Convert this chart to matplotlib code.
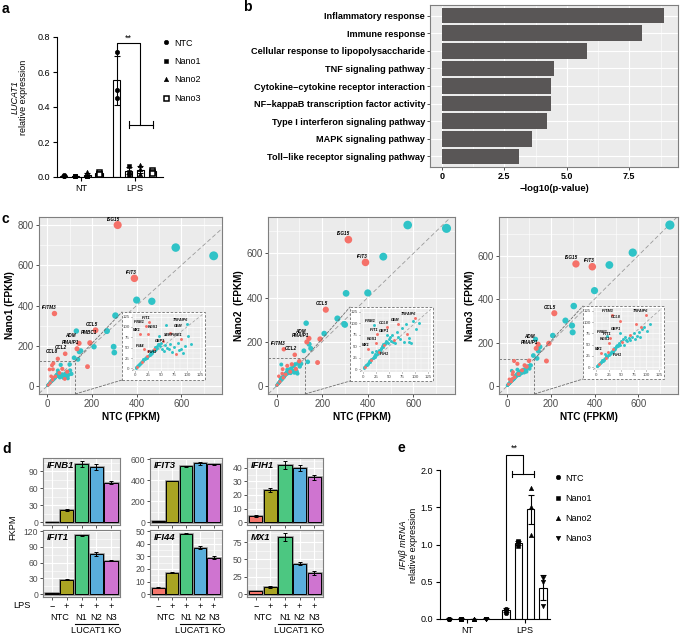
import matplotlib.pyplot as plt
import matplotlib.transforms as mtransforms
import numpy as np
from matplotlib.patches import ConnectionPatch, Rectangle

plt.rcParams["font.family"] = ["Liberation Sans", "DejaVu Sans"]
plt.rcParams["font.size"] = 6.5
plt.rcParams["axes.linewidth"] = 0.8

W, H = 682, 635
fig = plt.figure(figsize=(W / 100, H / 100), dpi=100)


def box(l, t, r, b):
    # pixel box (left, top, right, bottom) -> figure fraction rect
    return [l / W, 1 - b / H, (r - l) / W, (b - t) / H]


def fpx(x, y):
    return (x / W, 1 - y / H)


GG_BG = "#EBEBEB"
GREY30 = "#4D4D4D"

# ---------------------------------------------------------------------------
# data
# ---------------------------------------------------------------------------

# a: LUCAT1 qPCR
SERIES = ["NTC", "Nano1", "Nano2", "Nano3"]
GROUPS = ["NT", "LPS"]
A_MEAN_NT = [0.008, 0.006, 0.014, 0.022]
A_ERR_NT = [0.003, 0.002, 0.010, 0.008]
A_PTS_NT = [[0.012, 0.006, 0.007], [0.007, 0.005, 0.006], [0.030, 0.008, 0.005], [0.030, 0.020, 0.016]]
A_MEAN_LPS = [0.552, 0.035, 0.042, 0.032]
A_ERR_LPS = [0.140, 0.020, 0.020, 0.008]
A_PTS_LPS = [[0.715, 0.500, 0.449], [0.065, 0.030, 0.012], [0.068, 0.045, 0.015], [0.040, 0.030, 0.025]]

# b: enrichment
B_TERMS = [
    "Inflammatory response",
    "Immune response",
    "Cellular response to lipopolysaccharide",
    "TNF signaling pathway",
    "Cytokine\u2212cytokine receptor interaction",
    "NF\u2212kappaB transcription factor activity",
    "Type I interferon signaling pathway",
    "MAPK signaling pathway",
    "Toll\u2212like receptor signaling pathway",
]
B_LOGP = [8.9, 8.0, 5.82, 4.5, 4.37, 4.35, 4.2, 3.6, 3.08]

# c: FPKM scatter, named / outlying genes
C_GENES = ["ISG15", "IFIT3", "", "", "", "", "", "CCL5", "", "", "ADM", "PMAIP1",
           "", "", "", "PMBC1", "", "IFITM3", "CCL2", "CCL8", "", "", "", "",
           "IFNB1", "IFIT1", "MX1", "IFIH1", "IFI44", "RGS1", "GEM", "GBP1",
           "TNFAIP6", "SERPINE1"]
C_NTC = [315, 390, 575, 745, 400, 468, 305, 216, 267, 130, 142, 133,
         209, 297, 300, 191, 180, 32, 80, 47, 143, 137, 120, 150,
         21, 27, 10, 24, 17, 25, 67, 47, 100, 89]
C_NANO1 = [800, 535, 688, 647, 427, 421, 350, 277, 273, 273, 212, 185,
           195, 195, 166, 214, 96, 360, 160, 135, 170, 132, 140, 175,
           103, 112, 82, 42, 48, 83, 85, 77, 107, 71]
C_NANO2 = [662, 559, 728, 713, 421, 585, 419, 345, 305, 284, 215, 199,
           237, 280, 277, 212, 106, 166, 141, 91, 189, 109, 159, 170,
           97, 76, 44, 40, 37, 56, 98, 74, 112, 60]
C_NANO3 = [562, 549, 614, 741, 439, 557, 368, 335, 301, 215, 192, 173,
           232, 278, 247, 196, 115, 115, 95, 102, 161, 127, 140, 180,
           70, 64, 31, 33, 29, 53, 60, 75, 116, 89]
C_UP1 = "rrcccccrccrrcccrrrrrccccrrrrrrrccr"
C_UP2 = "rrcccccrccrrcccrrrrrcccccrrccrrcrc"
C_UP3 = "rrcccccrccrrcccrrrrrcccccrrrcrccrr"

# c: bulk of low-expressed genes (inset region)
CL_NTC = [1, 2, 3, 4, 5, 6, 7, 8, 9, 10, 11, 12, 13, 14, 15, 16, 18, 19, 20, 22,
          23, 25, 26, 28, 29, 30, 31, 33, 34, 35, 36, 38, 39, 40, 42, 43, 45, 46,
          48, 50, 52, 54, 56, 58, 60, 62, 65, 68, 72, 75, 78, 82, 85, 88, 92, 96,
          102, 108]
CL_NANO1 = [2, 3, 5, 4, 7, 9, 8, 11, 10, 14, 13, 16, 15, 19, 18, 22, 24, 23, 27, 26,
            30, 29, 33, 32, 36, 35, 40, 38, 44, 41, 47, 45, 52, 48, 55, 50, 58, 60,
            54, 62, 48, 65, 42, 56, 105, 50, 46, 58, 40, 52, 35, 62, 45, 48, 38, 55,
            77, 60]
CL_NANO2 = [2, 4, 4, 6, 8, 8, 10, 12, 11, 14, 15, 17, 16, 20, 19, 23, 25, 24, 28, 27,
            32, 30, 34, 35, 38, 37, 42, 40, 46, 44, 50, 48, 55, 52, 58, 54, 62, 60,
            57, 66, 70, 62, 75, 60, 64, 58, 80, 70, 66, 90, 60, 98, 77, 67, 56, 104,
            88, 100]
CL_NANO3 = [2, 3, 4, 5, 7, 8, 9, 10, 11, 12, 13, 15, 14, 17, 16, 19, 21, 20, 24, 23,
            27, 26, 29, 30, 33, 31, 36, 34, 40, 37, 43, 41, 47, 44, 50, 46, 54, 52,
            49, 58, 55, 62, 50, 66, 60, 57, 65, 72, 68, 75, 62, 70, 78, 66, 85, 90,
            80, 95]
CL_RED1 = [3, 12, 20, 30, 41, 50]
CL_RED2 = [2, 14, 25, 33, 44, 52]
CL_RED3 = [5, 17, 28, 40, 47]

C_NAMES = ["Nano1 (FPKM)", "Nano2  (FPKM)", "Nano3  (FPKM)"]
MAIN_LAB = [["ISG15", "IFIT3", "IFITM3", "CCL5", "ADM", "PMBC1", "PMAIP1", "CCL2", "CCL8"],
            ["ISG15", "IFIT3", "CCL5", "ADM", "PMAIP1", "IFITM3", "CCL2"],
            ["ISG15", "IFIT3", "CCL5", "ADM", "PMAIP1"]]
INSET_LAB = [["IFIT1", "IFNB1", "MX1", "RGS1", "GBP1", "GEM", "TNFAIP6", "SERPINE1", "IFI44", "IFIH1"],
             ["IFNB1", "CCL8", "GEM", "TNFAIP6", "IFIT1", "RGS1", "GBP1", "MX1", "IFIH1"],
             ["IFITM3", "TNFAIP6", "CCL8", "IFNB1", "IFIT1", "GBP1", "RGS1", "MX1", "IFIH1"]]
# label nudges (points) where labels would collide
MAIN_NUDGE = {"ADM": (-4, 1), "PMBC1": (4, 3), "CCL8": (-1, 1)}
INSET_NUDGE = [{"IFNB1": (-2, 0), "MX1": (-1, 0), "RGS1": (6, 2), "IFI44": (-1, -1),
                "IFIH1": (6, -4), "GBP1": (3, -6), "GEM": (8, 2)},
               {"IFIH1": (9, -5)},
               {"IFIH1": (9, -5)}]

# d: FPKM of interferon genes
D_GENES = ["IFNB1", "IFIT3", "IFIH1", "IFIT1", "IFI44", "MX1"]
D_MEAN = [[0.5, 21.5, 103, 97, 70], [10, 390, 535, 560, 550], [4.5, 24, 42, 40, 33],
          [2, 27, 112, 76, 64], [5, 17, 48, 37, 29], [4.5, 10, 82, 44, 31]]
D_ERR = [[0.2, 1, 5, 5, 3], [2, 2, 5, 12, 6], [0.5, 1.5, 3, 2, 2],
         [0.5, 1, 1.5, 3.5, 1.5], [0.4, 0.6, 0.3, 1.5, 1], [0.3, 1, 6, 2, 3]]
D_TICKS = [[0, 30, 60, 90], [0, 200, 400, 600], [0, 10, 20, 30, 40],
           [0, 30, 60, 90, 120], [0, 10, 20, 30, 40, 50], [0, 25, 50, 75]]
D_LPS = ["\u2212", "+", "+", "+", "+"]
D_KO = ["N1", "N2", "N3"]

# e: IFNb qPCR
E_MEAN_NT = [0.005, 0.005, 0.003, 0.005]
E_ERR_NT = [0.002, 0.002, 0.001, 0.002]
E_PTS_NT = [[0.005, 0.004, 0.006], [0.005, 0.004, 0.006], [0.003, 0.002, 0.004], [0.005, 0.004, 0.006]]
E_MEAN_LPS = [0.12, 1.02, 1.47, 0.42]
E_ERR_LPS = [0.03, 0.03, 0.19, 0.17]
E_PTS_LPS = [[0.13, 0.12, 0.08], [1.05, 1.04, 0.98], [1.76, 1.50, 1.13], [0.55, 0.50, 0.18]]

RED = "#F57169"
CYAN = "#2FC3C7"
D_COLORS = ["#F4766C", "#A9A423", "#4CC781", "#5AAEDC", "#CF74D0"]


# ---------------------------------------------------------------------------
# helpers
# ---------------------------------------------------------------------------

def prism_panel(ax, means, errs, pts, markers, hollow, gap):
    handles = []
    for gi in range(2):
        xs = np.arange(4) + gi * gap
        ax.bar(xs, means[gi], width=0.6, facecolor="white", edgecolor="black",
               linewidth=0.8, zorder=2)
        ax.errorbar(xs, means[gi], yerr=errs[gi], fmt="none", ecolor="black",
                    elinewidth=0.8, capsize=2.2, capthick=0.8, zorder=3)
        for si in range(4):
            (h,) = ax.plot([xs[si]] * len(pts[gi][si]), pts[gi][si], linestyle="none",
                           marker=markers[si], ms=3.2 if not hollow[si] else 3.6,
                           mfc="white" if hollow[si] else "black", mec="black",
                           mew=1.1 if hollow[si] else 0.4, zorder=4, clip_on=False,
                           label=SERIES[si])
            if gi == 0:
                handles.append(h)
    ax.set_xticks([1.5, 1.5 + gap])
    ax.set_xticklabels(GROUPS)
    for s in ["top", "right"]:
        ax.spines[s].set_visible(False)
    ax.tick_params(length=3, width=0.8, pad=2)
    return handles


def gg_axes(ax):
    ax.set_facecolor(GG_BG)
    ax.set_axisbelow(True)
    ax.grid(True, which="major", color="white", linewidth=0.8)
    ax.grid(True, which="minor", color="white", linewidth=0.4)
    ax.tick_params(which="major", length=2, width=0.6, color="#333333",
                   labelcolor=GREY30, pad=1.5)
    ax.tick_params(which="minor", length=0)
    for s in ax.spines.values():
        s.set_color("#7F7F7F")
        s.set_linewidth(0.8)


# ---------------------------------------------------------------------------
# a
# ---------------------------------------------------------------------------

ax = fig.add_axes(box(57, 37, 163, 177))
hs = prism_panel(ax, [A_MEAN_NT, A_MEAN_LPS], [A_ERR_NT, A_ERR_LPS], [A_PTS_NT, A_PTS_LPS],
                 ["o", "s", "^", "s"], [False, False, False, True], 4.5)
ax.set_xlim(-0.55, 8.4)
ax.set_ylim(0, 0.8)
ax.set_yticks([0, 0.2, 0.4, 0.6, 0.8])
ax.set_yticklabels(["0.0", "0.2", "0.4", "0.6", "0.8"])
ax.plot([4.5, 4.5, 6.5, 6.5], [0.70, 0.765, 0.765, 0.30], color="black", lw=0.8, clip_on=False)
ax.plot([5.5, 7.55], [0.30, 0.30], color="black", lw=0.8)
ax.plot([5.5, 5.5], [0.28, 0.32], color="black", lw=0.8)
ax.plot([7.55, 7.55], [0.28, 0.32], color="black", lw=0.8)
ax.text(5.5, 0.77, "**", ha="center", va="bottom", fontsize=6.5)
fig.legend(handles=hs, loc="upper left", bbox_to_anchor=fpx(158, 34), frameon=False,
           handlelength=0.8, handletextpad=0.5, labelspacing=1.05, borderpad=0,
           fontsize=6.5)
fig.text(15 / W, 1 - 97 / H, "LUCAT1", rotation=90, style="italic", ha="center", va="center")
fig.text(24 / W, 1 - 97 / H, "relative expression", rotation=90, ha="center", va="center")

# ---------------------------------------------------------------------------
# b
# ---------------------------------------------------------------------------

ax = fig.add_axes(box(430, 5, 678, 167))
gg_axes(ax)
ax.barh(range(len(B_TERMS)), B_LOGP, height=0.88, color="#595656", zorder=2)
ax.set_ylim(len(B_TERMS) - 0.4, -0.6)
ax.set_xlim(-0.47, 9.45)
ax.set_yticks(range(len(B_TERMS)))
ax.set_yticklabels(B_TERMS, fontweight="bold", color="black", fontsize=6.6)
ax.set_xticks([0, 2.5, 5.0, 7.5])
ax.set_xticklabels(["0", "2.5", "5.0", "7.5"], fontweight="bold", color="black")
ax.set_xticks([1.25, 3.75, 6.25, 8.75], minor=True)
ax.set_xlabel("\u2212log10(p-value)", fontweight="bold", fontsize=6.8, labelpad=2)
ax.tick_params(axis="both", labelcolor="black")

# ---------------------------------------------------------------------------
# c
# ---------------------------------------------------------------------------

C_AX = [(39, 217, 222, 394), (268, 217, 455, 394), (499, 217, 678, 394)]
INSET_PX = [(122, 312, 205, 380), (350, 307, 433, 381), (583, 306, 664, 379)]
NANOS = [C_NANO1, C_NANO2, C_NANO3]
CL_NANOS = [CL_NANO1, CL_NANO2, CL_NANO3]
UPS = [C_UP1, C_UP2, C_UP3]
CL_REDS = [CL_RED1, CL_RED2, CL_RED3]
DASH = (0, (3, 2))

for k in range(3):
    xv = np.array(C_NTC + CL_NTC, dtype=float)
    yv = np.array(NANOS[k] + CL_NANOS[k], dtype=float)
    red = np.array([c == "r" for c in UPS[k]] +
                   [i in CL_REDS[k] for i in range(len(CL_NTC))])

    l, t, r, b = C_AX[k]
    ax = fig.add_axes(box(l, t, r, b))
    gg_axes(ax)
    xmax, ymax = xv.max(), yv.max()
    xlo, xhi = -0.05 * xmax, 1.05 * xmax
    ylo, yhi = -0.05 * ymax, 1.05 * ymax
    ax.set_xlim(xlo, xhi)
    ax.set_ylim(ylo, yhi)
    ax.set_xticks([0, 200, 400, 600])
    ax.set_xticks([100, 300, 500, 700], minor=True)
    yt = [0, 200, 400, 600, 800] if ymax > 780 else [0, 200, 400, 600]
    ax.set_yticks(yt)
    ax.set_yticks([v + 100 for v in yt if v + 100 < yhi], minor=True)
    ax.tick_params(labelsize=7)
    ax.set_xlabel("NTC (FPKM)", fontweight="bold", fontsize=7.2, labelpad=2)
    ax.set_ylabel(C_NAMES[k], fontweight="bold", fontsize=7.2, labelpad=2)

    ax.axline((0, 0), slope=1, color="#9A9A9A", lw=0.6, ls=(0, (5, 3)), zorder=1)
    size = 5 + 0.052 * (xv + yv) / 2
    ax.scatter(xv[~red], yv[~red], s=size[~red], color=CYAN, lw=0, zorder=3)
    ax.scatter(xv[red], yv[red], s=size[red], color=RED, lw=0, zorder=3)
    for name in MAIN_LAB[k]:
        i = C_GENES.index(name)
        dx, dy = MAIN_NUDGE.get(name, (0, 0))
        ax.annotate(name, (C_NTC[i], NANOS[k][i]), xytext=(1.5 + dx, 2.5 + dy),
                    textcoords="offset points", ha="right", va="bottom",
                    fontsize=3.3, fontweight="bold", style="italic", zorder=5)

    # zoom rectangle and connectors
    ax.plot([125, 125], [ylo, 125], color="#6E6E6E", lw=0.6, ls=DASH, zorder=2)
    ax.plot([xlo, 125], [125, 125], color="#6E6E6E", lw=0.6, ls=DASH, zorder=2)
    il, it, ir, ib = INSET_PX[k]
    for ya, yb in [(125, it), (ylo, ib)]:
        con = ConnectionPatch(xyA=(125, ya), coordsA=ax.transData, xyB=fpx(il, yb),
                              coordsB=fig.transFigure, color="#6E6E6E", lw=0.6,
                              ls=DASH, zorder=3)
        fig.add_artist(con)
    frame = Rectangle(fpx(il, ib), (ir - il) / W, (ib - it) / H, transform=fig.transFigure,
                      facecolor="white", edgecolor="#6E6E6E", lw=0.6, ls=DASH, zorder=3)
    fig.add_artist(frame)

    ins = fig.add_axes(box(il + 10, it + 2, ir - 2, ib - 9))
    ins.set_zorder(4)
    ins.set_facecolor(GG_BG)
    ins.set_axisbelow(True)
    ins.grid(True, which="major", color="white", lw=0.5)
    ins.grid(True, which="minor", color="white", lw=0.25)
    for s in ins.spines.values():
        s.set_visible(False)
    ins.set_xlim(-6.25, 131.25)
    ins.set_ylim(-6.25, 131.25)
    ticks = [0, 25, 50, 75, 100, 125]
    ins.set_xticks(ticks)
    ins.set_yticks(ticks)
    ins.set_xticks([12.5, 37.5, 62.5, 87.5, 112.5], minor=True)
    ins.set_yticks([12.5, 37.5, 62.5, 87.5, 112.5], minor=True)
    ins.tick_params(which="major", labelsize=3.2, length=1, width=0.4, pad=0.8,
                    labelcolor=GREY30, color="#333333")
    ins.tick_params(which="minor", length=0)
    ins.axline((0, 0), slope=1, color="#9A9A9A", lw=0.5, ls=(0, (4, 3)), zorder=1)
    ins.scatter(xv[~red], yv[~red], s=4.5, color=CYAN, lw=0, zorder=3)
    ins.scatter(xv[red], yv[red], s=4.5, color=RED, lw=0, zorder=3)
    for name in INSET_LAB[k]:
        i = C_GENES.index(name)
        dx, dy = INSET_NUDGE[k].get(name, (0, 0))
        ins.annotate(name, (C_NTC[i], NANOS[k][i]), xytext=(1 + dx, 1.5 + dy),
                     textcoords="offset points", ha="right", va="bottom",
                     fontsize=2.7, fontweight="bold", style="italic", zorder=5)

# ---------------------------------------------------------------------------
# d
# ---------------------------------------------------------------------------

D_POS = [(43, 458, 120, 525), (150, 458, 222, 525), (247, 458, 323, 525),
         (43, 530, 120, 597), (150, 530, 222, 597), (247, 530, 323, 597)]
xs = np.arange(5)
for k, gene in enumerate(D_GENES):
    ax = fig.add_axes(box(*D_POS[k]))
    gg_axes(ax)
    m = np.array(D_MEAN[k])
    e = np.array(D_ERR[k])
    ax.bar(xs, m, width=0.9, color=D_COLORS, edgecolor="#858585", linewidth=1.8, zorder=2)
    ax.bar(xs, m, width=0.9, color=D_COLORS, edgecolor="black", linewidth=0.7, zorder=2)
    ax.errorbar(xs, m, yerr=e, fmt="none", ecolor="black", elinewidth=0.7,
                capsize=1.6, capthick=0.7, zorder=3)
    top = max((m + e).max() * 1.05, D_TICKS[k][-1] * 1.02)
    ax.set_ylim(-0.045 * top, top)
    ax.set_xlim(-0.6, 4.6)
    ax.set_yticks(D_TICKS[k])
    ax.set_xticks(xs)
    ax.set_xticklabels([])
    ax.grid(True, axis="x", which="major", color="white", lw=0.8)
    ax.set_yticks([v + (D_TICKS[k][1] / 2) for v in D_TICKS[k]
                   if v + D_TICKS[k][1] / 2 < top], minor=True)
    ax.tick_params(labelsize=6.2)
    ax.text(0.05, 0.95, gene, transform=ax.transAxes, ha="left", va="top",
            fontweight="bold", style="italic", fontsize=6.8)
    if k >= 3:
        tr = mtransforms.blended_transform_factory(ax.transData, fig.transFigure)
        for i, sgn in enumerate(D_LPS):
            ax.text(i, 1 - 606 / H, sgn, transform=tr, ha="center", va="center", fontsize=6.6)
        ax.text(0.5, 1 - 617 / H, "NTC", transform=tr, ha="center", va="center", fontsize=6.6)
        for i, lab in enumerate(D_KO):
            ax.text(i + 2, 1 - 617 / H, lab, transform=tr, ha="center", va="center", fontsize=6.6)
        ax.plot([1.55, 4.45], [1 - 624 / H] * 2, transform=tr, color="black", lw=0.8,
                clip_on=False)
        ax.text(3, 1 - 630.5 / H, "LUCAT1 KO", transform=tr, ha="center", va="center",
                fontsize=6.6)
fig.text(22 / W, 1 - 606 / H, "LPS", ha="center", va="center", fontsize=6.6)
fig.text(13 / W, 1 - 527 / H, "FKPM", rotation=90, ha="center", va="center", fontsize=6.6)

# ---------------------------------------------------------------------------
# e
# ---------------------------------------------------------------------------

ax = fig.add_axes(box(440, 470, 550, 619))
hs = prism_panel(ax, [E_MEAN_NT, E_MEAN_LPS], [E_ERR_NT, E_ERR_LPS], [E_PTS_NT, E_PTS_LPS],
                 ["o", "s", "^", "v"], [False, False, False, False], 4.63)
ax.set_xlim(-0.73, 8.2)
ax.set_ylim(0, 2.0)
ax.set_yticks([0, 0.5, 1.0, 1.5, 2.0])
ax.set_yticklabels(["0.0", "0.5", "1.0", "1.5", "2.0"])
ax.plot([4.63, 4.63, 6.0, 6.0], [0.26, 2.2, 2.2, 1.94], color="black", lw=0.8, clip_on=False)
ax.plot([5.1, 6.9], [1.94, 1.94], color="black", lw=0.8)
ax.plot([5.1, 5.1], [1.90, 1.98], color="black", lw=0.8)
ax.plot([6.9, 6.9], [1.90, 1.98], color="black", lw=0.8)
ax.text(5.3, 2.23, "**", ha="center", va="bottom", fontsize=6.5)
fig.legend(handles=hs, loc="upper left", bbox_to_anchor=fpx(549.5, 469), frameon=False,
           handlelength=0.8, handletextpad=0.5, labelspacing=1.25, borderpad=0,
           fontsize=6.5)
fig.text(404 / W, 1 - 545 / H, "IFN\u03b2 mRNA", rotation=90, style="italic",
         ha="center", va="center")
fig.text(413 / W, 1 - 545 / H, "relative expression", rotation=90, ha="center", va="center")

# panel letters
for lab, x, y in [("a", 2, 2), ("b", 243, 0), ("c", 2, 212), ("d", 2, 442), ("e", 397, 441)]:
    fig.text(x / W, 1 - y / H, lab, fontweight="bold", fontsize=10, ha="left", va="top")

fig.savefig("out.png", dpi=100)
